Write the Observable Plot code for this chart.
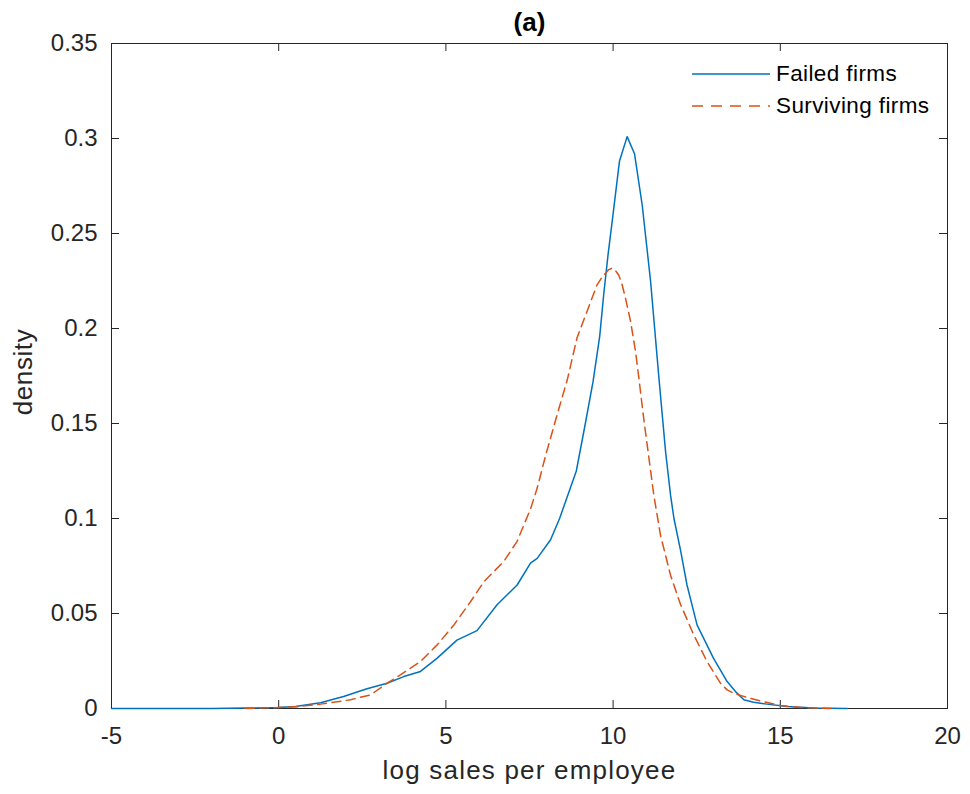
<!DOCTYPE html>
<html>
<head>
<meta charset="utf-8">
<script src="https://cdn.jsdelivr.net/npm/d3@7"></script>
<script src="https://cdn.jsdelivr.net/npm/@observablehq/plot@0.6"></script>
<style>
  html, body { margin: 0; padding: 0; background: #fff; }
  #wrap { position: relative; width: 970px; height: 794px; font-family: "Liberation Sans", Arial, sans-serif; }
  #legend { position: absolute; left: 692px; top: 58px; color: #000; font-size: 22.5px; letter-spacing: 0.4px; }
  .item { display: flex; align-items: center; height: 32px; }
  .item svg { width: 78px; height: 10px; margin-right: 6px; }
</style>
</head>
<body>
<div id="wrap">
  <div id="chart"></div>
  <div id="legend"></div>
</div>
<script>
const seriesNames = ["Failed firms", "Surviving firms"];
const seriesColors = ["#0072BD", "#D95319"];

const failedX = [-5, -2, -1, 0, 0.5, 1.25, 1.94, 2.64, 3.24, 3.74, 4.24, 4.74, 5.33, 5.93, 6.53, 7.13, 7.53, 7.73, 8.13, 8.4, 8.9, 9.17, 9.4, 9.6, 9.72, 9.85, 9.97, 10.19, 10.42, 10.64, 10.87, 11.12, 11.37, 11.57, 11.72, 11.82, 12.02, 12.21, 12.51, 13.0, 13.41, 13.66, 13.91, 14.2, 14.6, 15.2, 16, 17];
const failedY = [0, 0, 0.0002, 0.0005, 0.001, 0.003, 0.0063, 0.0104, 0.0133, 0.0168, 0.0195, 0.0265, 0.036, 0.041, 0.0546, 0.065, 0.0765, 0.079, 0.0888, 0.1, 0.125, 0.15, 0.172, 0.196, 0.218, 0.239, 0.256, 0.288, 0.301, 0.292, 0.265, 0.225, 0.174, 0.135, 0.112, 0.1, 0.083, 0.065, 0.044, 0.0265, 0.0142, 0.0089, 0.0046, 0.0033, 0.0023, 0.001, 0.0003, 0];

const survX = [-1, 0, 0.6, 1.25, 2.15, 2.75, 3.24, 3.64, 4.24, 4.74, 5.24, 5.74, 6.14, 6.73, 7.13, 7.53, 7.73, 7.98, 8.3, 8.63, 8.92, 9.22, 9.52, 9.67, 9.77, 9.87, 9.97, 10.07, 10.17, 10.27, 10.37, 10.52, 10.67, 10.77, 10.92, 11.07, 11.22, 11.42, 11.72, 12.02, 12.41, 12.81, 13.21, 13.41, 13.61, 14.0, 14.41, 15.0, 15.6, 16.5];
const survY = [0, 0.0005, 0.001, 0.0023, 0.0046, 0.0072, 0.0133, 0.0177, 0.0247, 0.0335, 0.044, 0.0563, 0.0668, 0.0774, 0.088, 0.105, 0.116, 0.133, 0.153, 0.173, 0.195, 0.209, 0.223, 0.227, 0.229, 0.231, 0.2317, 0.2305, 0.228, 0.223, 0.216, 0.204, 0.188, 0.174, 0.152, 0.132, 0.112, 0.091, 0.07, 0.0546, 0.0388, 0.0247, 0.0133, 0.0098, 0.008, 0.0058, 0.004, 0.0016, 0.0005, 0];

const xTicks = [-5, 0, 5, 10, 15, 20];
const yTicks = [0, 0.05, 0.1, 0.15, 0.2, 0.25, 0.3, 0.35];
const yTickLabels = ["0", "0.05", "0.1", "0.15", "0.2", "0.25", "0.3", "0.35"];

const titleText = "(a)";
const xLabel = "log sales per employee";
const yLabel = "density";

const failed = failedX.map((x, i) => ({x, y: failedY[i]}));
const surviving = survX.map((x, i) => ({x, y: survY[i]}));

const W = 970, H = 794;
const mL = 111, mR = 23, mT = 43, mB = 86;
const pw = W - mL - mR, ph = H - mT - mB;
const tk = 8;
const axisColor = "#262626";
const font = "'Liberation Sans', Arial, sans-serif";

const chart = Plot.plot({
  width: W, height: H,
  marginLeft: mL, marginRight: mR, marginTop: mT, marginBottom: mB,
  style: {fontFamily: font, background: "#fff"},
  x: {domain: [-5, 20], axis: null},
  y: {domain: [0, 0.35], axis: null},
  marks: [
    Plot.frame({stroke: axisColor, strokeWidth: 1}),
    // inward ticks on all four sides
    Plot.ruleX(xTicks, {x: d => d, stroke: axisColor, insetTop: ph - tk}),
    Plot.ruleX(xTicks, {x: d => d, stroke: axisColor, insetBottom: ph - tk}),
    Plot.ruleY(yTicks, {y: d => d, stroke: axisColor, insetRight: pw - tk}),
    Plot.ruleY(yTicks, {y: d => d, stroke: axisColor, insetLeft: pw - tk}),
    // tick labels
    Plot.text(xTicks, {x: d => d, frameAnchor: "bottom", dy: 28, textAnchor: "middle", lineAnchor: "middle", text: d => String(d), fontSize: 24, fill: axisColor}),
    Plot.text(yTicks, {y: d => d, frameAnchor: "left", dx: -14, textAnchor: "end", lineAnchor: "middle", text: (d, i) => yTickLabels[i], fontSize: 24, fill: axisColor}),
    // series
    Plot.line(failed, {x: "x", y: "y", stroke: seriesColors[0], strokeWidth: 1.5, curve: "linear"}),
    Plot.line(surviving, {x: "x", y: "y", stroke: seriesColors[1], strokeWidth: 1.5, strokeDasharray: "9,5.5", curve: "linear"}),
    // title and axis labels
    Plot.text([titleText], {frameAnchor: "top", dy: -21, textAnchor: "middle", lineAnchor: "middle", text: d => d, fontSize: 26, fontWeight: "bold", fill: "#000"}),
    Plot.text([xLabel], {frameAnchor: "bottom", dy: 62, textAnchor: "middle", lineAnchor: "middle", text: d => d, fontSize: 26, fill: axisColor, className: "xlabel"}),
    Plot.text([yLabel], {frameAnchor: "left", dx: -88, dy: -4, rotate: -90, textAnchor: "middle", lineAnchor: "middle", text: d => d, fontSize: 26, fill: axisColor, className: "ylabel"})
  ]
});
chart.querySelectorAll(".xlabel text").forEach(t => t.setAttribute("letter-spacing", "1.2"));
chart.querySelectorAll(".ylabel text").forEach(t => t.setAttribute("letter-spacing", "0.6"));
document.getElementById("chart").appendChild(chart);

const legend = document.getElementById("legend");
seriesNames.forEach((name, i) => {
  const item = document.createElement("div");
  item.className = "item";
  const dash = i === 1 ? ' stroke-dasharray="11,8"' : "";
  item.innerHTML = `<svg viewBox="0 0 78 10"><line x1="0" y1="5" x2="78" y2="5" stroke="${seriesColors[i]}" stroke-width="1.5"${dash}/></svg><span>${name}</span>`;
  legend.appendChild(item);
});
</script>
</body>
</html>
